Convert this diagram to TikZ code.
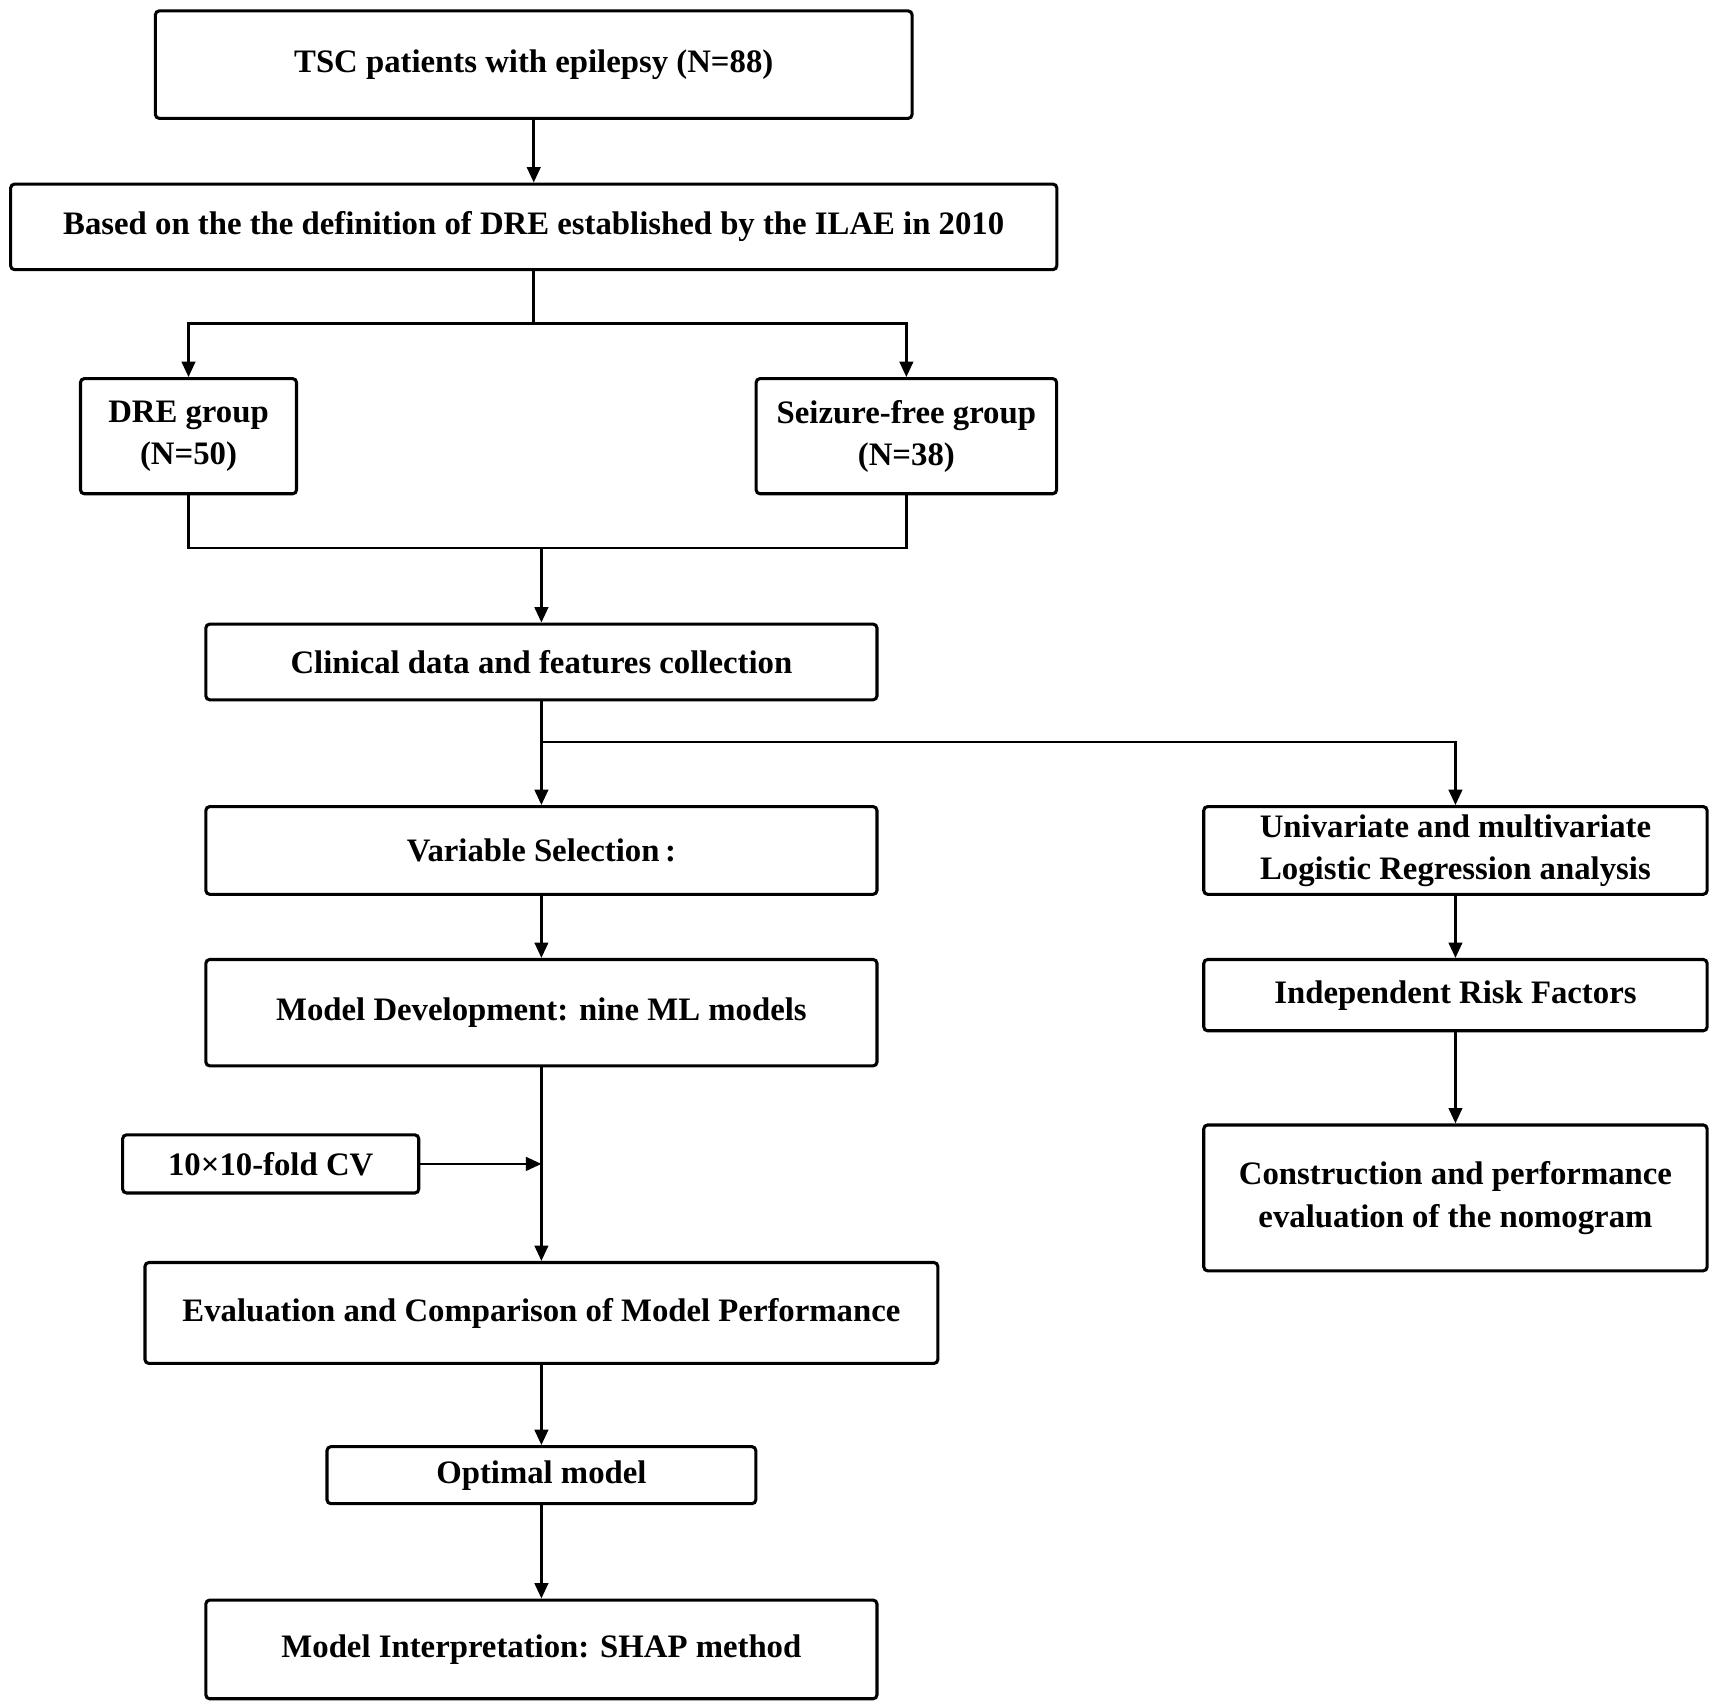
\documentclass[tikz,border=0pt]{standalone}
\usepackage{fontspec}
\setmainfont{Liberation Serif}
\usetikzlibrary{arrows.meta}
\begin{document}
\begin{tikzpicture}[x=0.01cm,y=-0.01cm,semithick,
  box/.style={draw,rounded corners=1pt,line width=0.8pt,align=center,
    font=\fontsize{8.5}{11}\selectfont\bfseries,inner sep=0pt},
  arr/.style={-{Triangle[length=4pt,width=3.5pt]},line width=0.7pt},
  ln/.style={line width=0.7pt}]
\useasboundingbox (0,0) rectangle (1563,1555);
\node[box,minimum width=6.90cm,minimum height=0.98cm](top)at(487,59){TSC patients with epilepsy (N=88)};
\node[box,minimum width=9.54cm,minimum height=0.78cm](ilae)at(487,207){Based on the the definition of DRE established by the ILAE in 2010};
\node[box,minimum width=1.97cm,minimum height=1.05cm](dre)at(172,398){DRE group\\(N=50)};
\node[box,minimum width=2.74cm,minimum height=1.05cm](sf)at(827,398){Seizure-free group\\(N=38)};
\node[box,minimum width=6.12cm,minimum height=0.69cm](clin)at(494,604){Clinical data and features collection};
\node[box,minimum width=6.12cm,minimum height=0.80cm](var)at(494,776){Variable Selection\,:};
\node[box,minimum width=4.59cm,minimum height=0.80cm](uni)at(1328,776){Univariate and multivariate\\Logistic Regression analysis};
\node[box,minimum width=6.12cm,minimum height=0.97cm](model)at(494,924){Model Development: nine ML models};
\node[box,minimum width=4.59cm,minimum height=0.65cm](indep)at(1328,908){Independent Risk Factors};
\node[box,minimum width=2.70cm,minimum height=0.53cm](cv)at(247,1062){10×10-fold CV};
\node[box,minimum width=4.59cm,minimum height=1.33cm](nomo)at(1328,1093){Construction and performance\\evaluation of the nomogram};
\node[box,minimum width=7.23cm,minimum height=0.92cm](eval)at(494,1198){Evaluation and Comparison of Model Performance};
\node[box,minimum width=3.91cm,minimum height=0.52cm](opt)at(494,1346){Optimal model};
\node[box,minimum width=6.12cm,minimum height=0.90cm](shap)at(494,1505){Model Interpretation: SHAP method};
\coordinate(s1)at(487,295);\coordinate(j1)at(494,500);
\coordinate(s2)at(494,677);\coordinate(c1)at(494,1062);
\draw[arr](top)--(ilae);
\draw[ln](ilae.south)--(s1);
\draw[arr](s1)-|(dre.north);
\draw[arr](s1)-|(sf.north);
\draw[ln](dre.south)|-(j1)-|(sf.south);
\draw[arr](j1)--(clin);
\draw[arr](clin)--(var);
\draw[arr](s2)-|(uni.north);
\draw[arr](var)--(model);
\draw[arr](model)--(eval);
\draw[arr](cv)--(c1);
\draw[arr](uni)--(indep);
\draw[arr](indep)--(nomo);
\draw[arr](eval)--(opt);
\draw[arr](opt)--(shap);
\end{tikzpicture}
\end{document}
